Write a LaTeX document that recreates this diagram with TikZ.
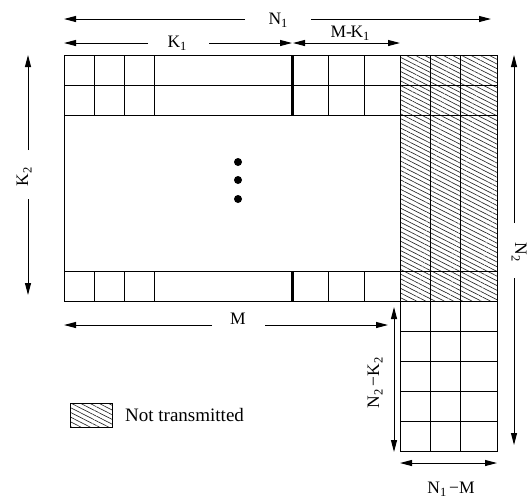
\documentclass[tikz,border=0pt]{standalone}
\usepackage{fontspec}
\setmainfont{Liberation Serif}
\usetikzlibrary{arrows.meta,patterns.meta}
\newcommand{\lowsub}[1]{\raisebox{-3.5pt}{\fontsize{12.5}{12.5}\selectfont #1}}
\begin{document}
\begin{tikzpicture}[x=1pt,y=-1pt,
  gridline/.style={line width=1pt},
  thickbar/.style={line width=3pt},
  hatch/.style={pattern={Lines[angle=-27,distance=4.2pt,line width=0.65pt]},pattern color=black!85},
  dimline/.style={line width=1pt},
  tipend/.style={dimline,-{Triangle[length=12pt,width=6pt]}},
  bothend/.style={dimline,{Triangle[length=12pt,width=6pt]}-{Triangle[length=12pt,width=6pt]}},
  lbl/.style={font=\fontsize{17.5}{20}\selectfont,inner sep=0pt,anchor=base},
  dotmark/.style={circle,fill=black,inner sep=0pt,minimum size=8pt}]
\useasboundingbox (0,0) rectangle (529,499);

% hatched (not transmitted) region
\fill[hatch] (400,55) rectangle (497,301);

% main block
\draw[gridline] (64,55) rectangle (400,301);
\foreach \yy in {85,115,271} \draw[gridline] (64,\yy) -- (497,\yy);
\foreach \xx in {94,124,154,328,364} {
  \draw[gridline] (\xx,55) -- (\xx,115);
  \draw[gridline] (\xx,271) -- (\xx,301);
}
\draw[thickbar] (292,55) -- (292,115);
\draw[thickbar] (292,271) -- (292,301);

% right columns (hatched part + lower block)
\draw[gridline] (400,55) rectangle (497,301);
\draw[gridline] (400,301) rectangle (497,451);
\foreach \xx in {430,460} \draw[gridline] (\xx,55) -- (\xx,451);
\foreach \yy in {331,361,391,421} \draw[gridline] (400,\yy) -- (497,\yy);

% dots
\node[dotmark] (d1) at (238,162) {};
\node[dotmark] (d2) at (238,180) {};
\node[dotmark] (d3) at (238,199) {};

% coordinates for dimension lines
\coordinate (n1a) at (64,19);  \coordinate (n1b) at (245,19);
\coordinate (n1c) at (311,19); \coordinate (n1d) at (491,19);
\coordinate (k1a) at (64,43);  \coordinate (k1b) at (148,43);
\coordinate (k1c) at (209,43); \coordinate (k1d) at (292,43);
\coordinate (mk1a) at (293,43); \coordinate (mk1b) at (400,43);
\coordinate (k2a) at (28,55);  \coordinate (k2b) at (28,150);
\coordinate (k2c) at (28,199); \coordinate (k2d) at (28,295);
\coordinate (n2a) at (514,55);  \coordinate (n2b) at (514,223);
\coordinate (n2c) at (514,278); \coordinate (n2d) at (514,445);
\coordinate (ma) at (64,325);  \coordinate (mb) at (212,325);
\coordinate (mc) at (265,325); \coordinate (md) at (388,325);
\coordinate (nka) at (394,307); \coordinate (nkb) at (394,452);
\coordinate (nma) at (400,463); \coordinate (nmb) at (497,463);

\draw[tipend] (n1b) -- (n1a);
\draw[tipend] (n1c) -- (n1d);
\draw[tipend] (k1b) -- (k1a);
\draw[tipend] (k1c) -- (k1d);
\draw[bothend] (mk1a) -- (mk1b);
\draw[tipend] (k2b) -- (k2a);
\draw[tipend] (k2c) -- (k2d);
\draw[tipend] (n2b) -- (n2a);
\draw[tipend] (n2c) -- (n2d);
\draw[tipend] (mb) -- (ma);
\draw[tipend] (mc) -- (md);
\draw[bothend] (nka) -- (nkb);
\draw[bothend] (nma) -- (nmb);

% labels
\node[lbl] (ln1) at (278,24) {N\lowsub{1}};
\node[lbl] (lk1) at (177,47) {K\lowsub{1}};
\node[lbl] (lmk1) at (350,37) {M-\kern-1.5pt K\lowsub{1}};
\node[lbl,rotate=90] (lk2) at (28,177) {K\lowsub{2}};
\node[lbl,rotate=-90] (ln2) at (515,252) {N\lowsub{2}};
\node[lbl] (lm) at (238,324) {M};
\node[lbl,rotate=90] (lnk) at (379,383) {N\lowsub{2}\,−K\lowsub{2}};
\node[lbl] (lnm) at (451,493) {N\lowsub{1}\,−M};

% legend
\path[hatch] (70,403) rectangle (112,427);
\draw[gridline] (70,403) rectangle (112,427);
\node[font=\fontsize{19}{22}\selectfont,inner sep=0pt,anchor=base west] (leg) at (125,421.5) {Not transmitted};
\end{tikzpicture}
\end{document}
